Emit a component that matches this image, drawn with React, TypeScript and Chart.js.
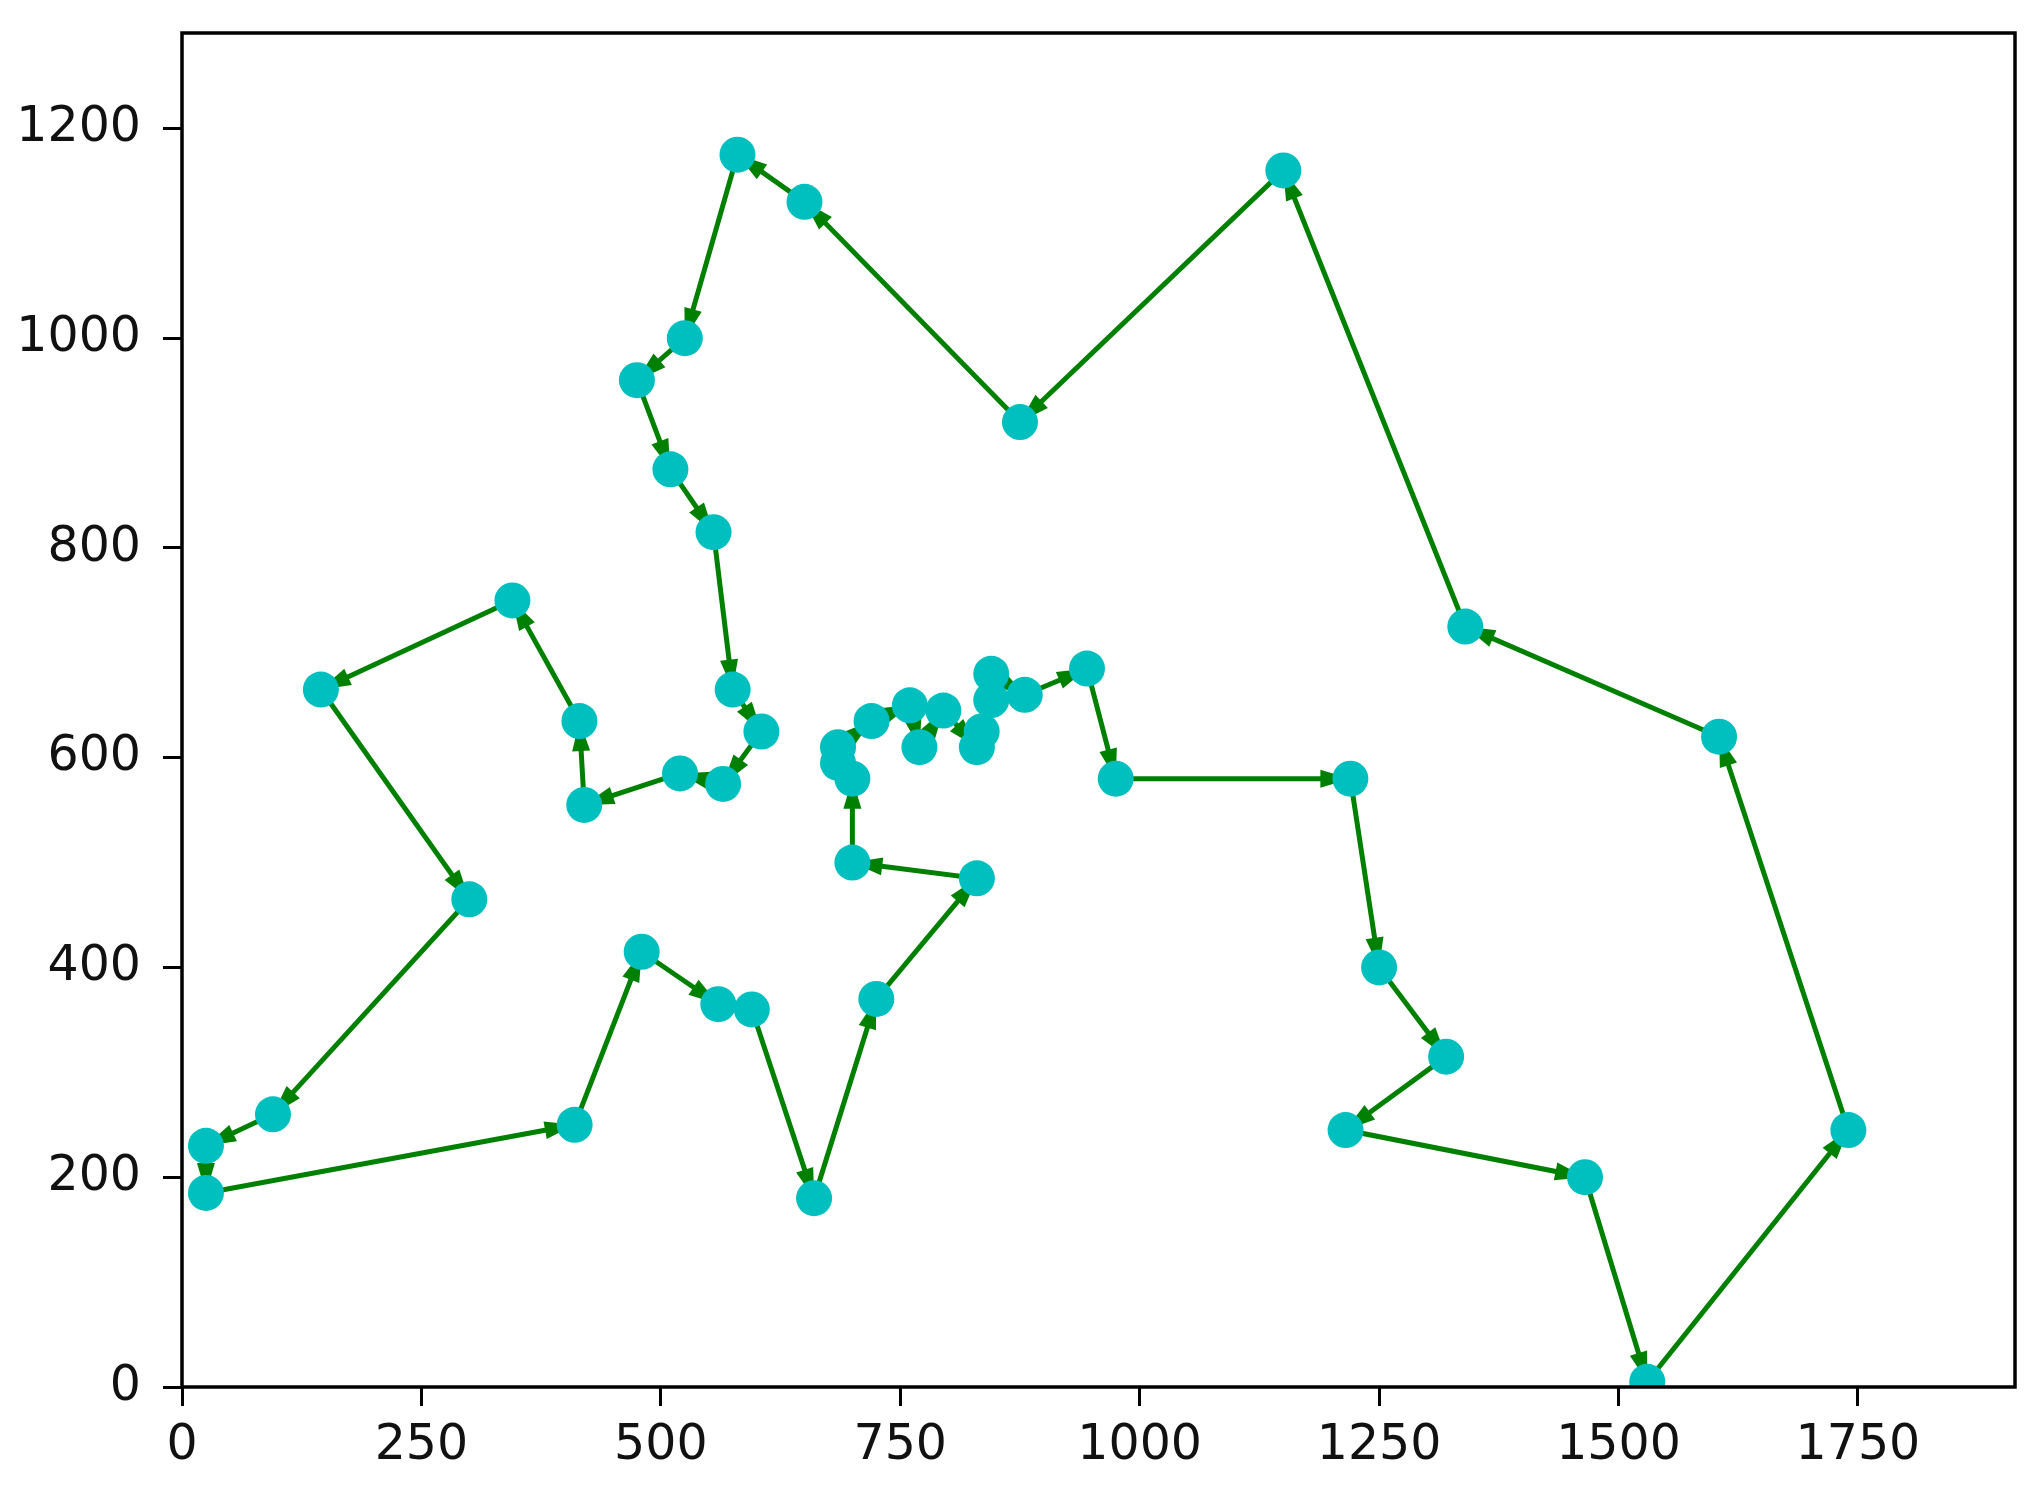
import React, { useEffect, useRef } from "react";
import { Chart, registerables } from "chart.js";

Chart.register(...registerables);

// Tour order (closed: last point repeats the first)
const tourX = [565, 520, 420, 415, 345, 145, 300, 95, 25, 25, 410, 480, 560, 595, 660, 725, 830, 700, 700, 685, 685, 720, 760, 770, 795, 830, 835, 845, 845, 880, 945, 975, 1220, 1250, 1320, 1215, 1465, 1530, 1740, 1605, 1340, 1150, 875, 650, 580, 525, 475, 510, 555, 575, 605, 565];
const tourY = [575, 585, 555, 635, 750, 665, 465, 260, 230, 185, 250, 415, 365, 360, 180, 370, 485, 500, 580, 595, 610, 635, 650, 610, 645, 610, 625, 655, 680, 660, 685, 580, 580, 400, 315, 245, 200, 5, 245, 620, 725, 1160, 920, 1130, 1175, 1000, 960, 875, 815, 665, 625, 575];

const xTicks = [0, 250, 500, 750, 1000, 1250, 1500, 1750];
const yTicks = [0, 200, 400, 600, 800, 1000, 1200];

const X_MAX = 1914;
const Y_MAX = 1291;

const W = 2036;
const H = 1502;

const LINE_COLOR = "#008000";
const MARKER_COLOR = "#00bfbf";
const FONT = "'DejaVu Sans', sans-serif";

const arrowPlugin = {
  id: "arrowHeads",
  afterDatasetDraw(chart: any, args: any) {
    if (args.index !== 1) return;
    const meta = chart.getDatasetMeta(1);
    const pts = meta.data;
    const ctx = chart.ctx;
    const area = chart.chartArea;
    ctx.save();
    ctx.beginPath();
    ctx.rect(area.left, area.top, area.right - area.left, area.bottom - area.top);
    ctx.clip();
    ctx.fillStyle = LINE_COLOR;
    const L = 30;
    const HW = 9;
    for (let i = 1; i < pts.length; i++) {
      const a = pts[i - 1];
      const b = pts[i];
      const dx = b.x - a.x;
      const dy = b.y - a.y;
      const len = Math.hypot(dx, dy);
      if (len === 0) continue;
      const ux = dx / len;
      const uy = dy / len;
      const bx = b.x - ux * L;
      const by = b.y - uy * L;
      ctx.beginPath();
      ctx.moveTo(b.x, b.y);
      ctx.lineTo(bx - uy * HW, by + ux * HW);
      ctx.lineTo(bx + uy * HW, by - ux * HW);
      ctx.closePath();
      ctx.fill();
    }
    ctx.restore();
  },
};

const framePlugin = {
  id: "frame",
  afterDraw(chart: any) {
    const { ctx, chartArea: a } = chart;
    ctx.save();
    ctx.strokeStyle = "#000";
    ctx.lineWidth = 3.5;
    ctx.strokeRect(a.left, a.top, a.right - a.left, a.bottom - a.top);
    ctx.restore();
  },
};

export default function App() {
  const ref = useRef<HTMLCanvasElement | null>(null);

  useEffect(() => {
    if (!ref.current) return;
    const linePts = tourX.map((x, i) => ({ x, y: tourY[i] }));
    const markerPts = linePts.slice(0, linePts.length - 1);
    const chart = new Chart(ref.current, {
      type: "scatter",
      data: {
        datasets: [
          {
            type: "scatter",
            data: markerPts,
            backgroundColor: MARKER_COLOR,
            borderColor: MARKER_COLOR,
            borderWidth: 0,
            pointRadius: 18,
            pointHoverRadius: 18,
            order: 1,
            clip: 0,
          } as any,
          {
            type: "line",
            data: linePts,
            borderColor: LINE_COLOR,
            borderWidth: 5,
            pointRadius: 0,
            fill: false,
            tension: 0,
            order: 2,
            clip: 0,
          } as any,
        ],
      },
      options: {
        responsive: false,
        animation: false,
        devicePixelRatio: 1,
        layout: { padding: { top: 33, right: 21, left: 0, bottom: 0 } },
        plugins: {
          legend: { display: false },
          tooltip: { enabled: false },
        },
        scales: {
          x: {
            type: "linear",
            min: 0,
            max: X_MAX,
            afterBuildTicks: (s: any) => {
              s.ticks = xTicks.map((v) => ({ value: v }));
            },
            afterFit: (s: any) => {
              s.height = H - 1387;
              s.paddingLeft = 0;
              s.paddingRight = 0;
            },
            border: { display: false },
            grid: {
              display: true,
              drawOnChartArea: false,
              drawTicks: true,
              tickLength: 19,
              tickWidth: 3,
              tickColor: "#000",
              color: "#000",
            },
            ticks: {
              color: "#111",
              padding: 11,
              maxRotation: 0,
              autoSkip: false,
              font: { family: FONT, size: 49 },
              callback: (v: any) => String(v),
            },
          },
          y: {
            type: "linear",
            min: 0,
            max: Y_MAX,
            afterBuildTicks: (s: any) => {
              s.ticks = yTicks.map((v) => ({ value: v }));
            },
            afterFit: (s: any) => {
              s.width = 182;
              s.paddingTop = 0;
              s.paddingBottom = 0;
            },
            border: { display: false },
            grid: {
              display: true,
              drawOnChartArea: false,
              drawTicks: true,
              tickLength: 19,
              tickWidth: 3,
              tickColor: "#000",
              color: "#000",
            },
            ticks: {
              color: "#111",
              padding: 22,
              autoSkip: false,
              font: { family: FONT, size: 49 },
              callback: (v: any) => String(v),
            },
          },
        },
      },
      plugins: [arrowPlugin, framePlugin],
    });
    return () => chart.destroy();
  }, []);

  return (
    <div style={{ position: "fixed", left: 0, top: 0, width: W, height: H, background: "#fff" }}>
      <canvas ref={ref} width={W} height={H} style={{ display: "block", width: W, height: H }} />
    </div>
  );
}
